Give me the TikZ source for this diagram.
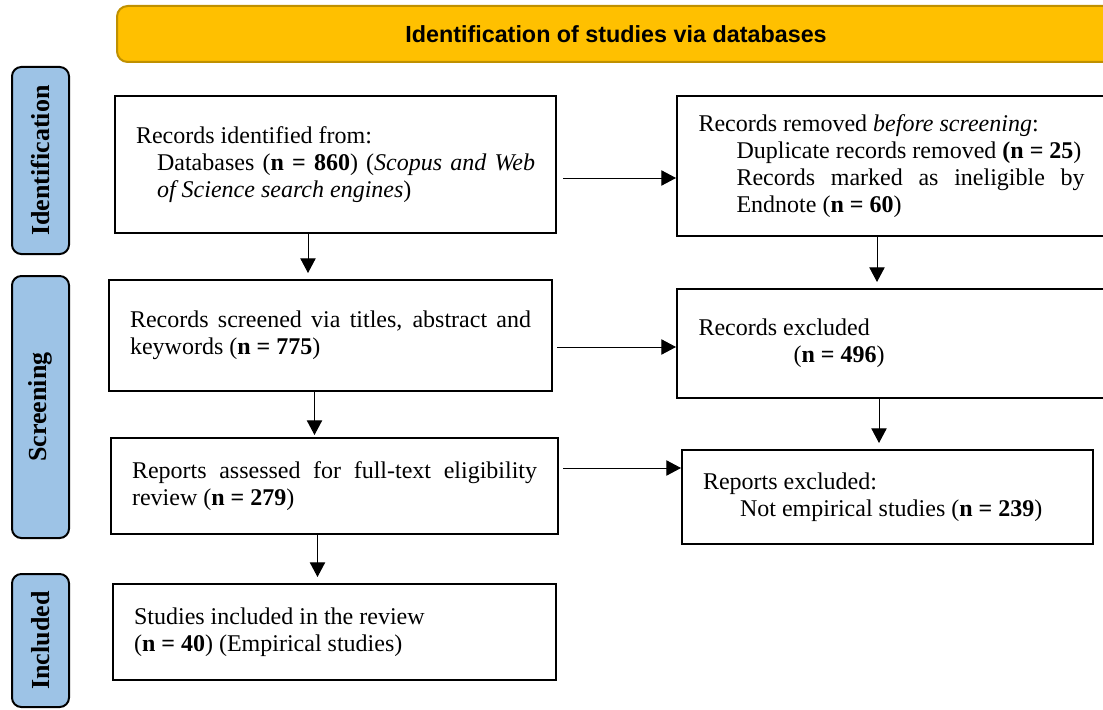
\documentclass[tikz,border=0pt]{standalone}
\usepackage{fontspec}
\setmainfont{Liberation Serif}
\newfontfamily\bannerfont{Liberation Sans}
\usetikzlibrary{arrows.meta,calc}
\definecolor{bannerfill}{HTML}{FFC000}
\definecolor{bannerdraw}{HTML}{BF9000}
\definecolor{phasefill}{HTML}{9DC3E6}
\newcommand\boxtextfont{\fontsize{18pt}{20.25pt}\selectfont\hyphenpenalty=10000\exhyphenpenalty=10000\tolerance=9999\parindent=0pt\relax}
\newcommand\phasetextfont{\fontsize{19.5pt}{22pt}\selectfont\bfseries}
\newcommand\bannertextfont{\bannerfont\bfseries\fontsize{17.5pt}{20pt}\selectfont}
\begin{document}
\begin{tikzpicture}[x=0.75pt,y=-0.75pt,
  flowbox/.style={draw=black, line width=1.6pt, fill=white, inner sep=0pt, anchor=north west, align=justify, font=\boxtextfont},
  phasebox/.style={draw=black, line width=1.5pt, fill=phasefill, rounded corners=7pt, rotate=90, inner sep=0pt, font=\phasetextfont},
  titlebar/.style={draw=bannerdraw, line width=1.5pt, fill=bannerfill, rounded corners=8pt, inner sep=0pt, font=\bannertextfont},
  arr/.style={draw=black, line width=0.75pt, -{Triangle[length=11pt,width=11.5pt]}}
]
\path[use as bounding box] (0,0) rectangle (1103,710);
\clip (0,0) rectangle (1103,710);

% title banner
\node[titlebar, minimum width=748.5pt, minimum height=42pt] (T) at (616,34) {Identification of studies via databases};

% phase labels
\node[phasebox, minimum width=140.25pt, minimum height=42.75pt] (L1) at (40.5,160.5) {Identification};
\node[phasebox, minimum width=196.5pt, minimum height=42.75pt] (L2) at (40.5,407) {Screening};
\node[phasebox, minimum width=99.75pt, minimum height=42.75pt] (L3) at (40.5,640.5) {Included};

% boxes
\node[flowbox, minimum width=330.75pt, minimum height=102.75pt, text width=299.25pt] (A) at (114,95)
  {Records identified from:\par
   \leftskip=15.75pt Databases (\textbf{n = 860}) (\textit{Scopus and Web of Science search engines})\par};

\node[flowbox, minimum width=321.75pt, minimum height=105pt, text width=289.5pt] (B) at (676,95)
  {Records removed \textit{before screening}:\par
   \leftskip=28.5pt Duplicate records removed \textbf{(n = 25})\par
   Records marked as ineligible by Endnote (\textbf{n = 60})\par};

\node[flowbox, minimum width=332.25pt, minimum height=83.25pt, text width=300.75pt] (C) at (108,279)
  {Records screened via titles, abstract and keywords (\textbf{n = 775})\par};

\node[flowbox, minimum width=321.75pt, minimum height=81.75pt, text width=289.5pt] (D) at (676,288)
  {Records excluded\par
   \leftskip=71.25pt (\textbf{n = 496})\par};

\node[flowbox, minimum width=335.25pt, minimum height=72pt, text width=303.75pt] (E) at (110,437)
  {Reports assessed for full-text eligibility review (\textbf{n = 279})\par};

\node[flowbox, minimum width=308.25pt, minimum height=70.5pt, text width=276.75pt] (F) at (681,449)
  {Reports excluded:\par
   \leftskip=27.75pt Not empirical studies (\textbf{n = 239})\par};

\node[flowbox, minimum width=332.25pt, minimum height=72pt, text width=300.75pt] (G) at (112,583)
  {Studies included in the review\par
   (\textbf{n = 40}) (Empirical studies)\par};

% connectors
\draw[arr, shorten <=4.5pt] (A.east |- 0,178) -- (B.west |- 0,178);
\draw[arr, shorten <=3pt] (C.east |- 0,347) -- (D.west |- 0,347);
\draw[arr, shorten <=3pt] (E.east |- 0,468) -- (F.west |- 0,468);
\draw[arr, shorten >=4.5pt] (A.south -| 308,0) -- (C.north -| 308,0);
\draw[arr, shorten >=4.5pt] (B.south -| 877,0) -- (D.north -| 877,0);
\draw[arr, shorten >=1.5pt] (C.south -| 314.5,0) -- (E.north -| 314.5,0);
\draw[arr, shorten >=4.5pt] (D.south -| 879,0) -- (F.north -| 879,0);
\draw[arr, shorten >=4.5pt] (E.south -| 317.5,0) -- (G.north -| 317.5,0);
\end{tikzpicture}
\end{document}
